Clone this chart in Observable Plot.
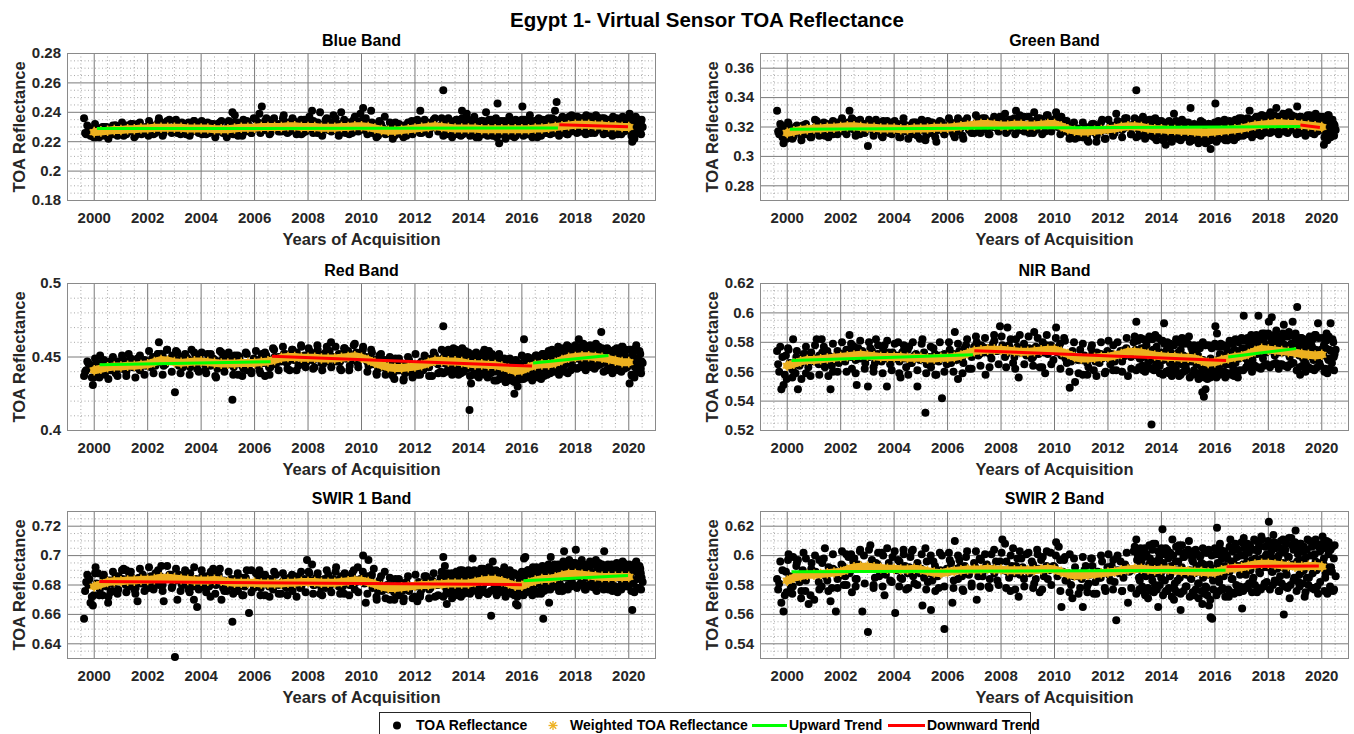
<!DOCTYPE html>
<html><head><meta charset="utf-8">
<script src="https://cdn.jsdelivr.net/npm/d3@7"></script>
<script src="https://cdn.jsdelivr.net/npm/@observablehq/plot@0.6"></script>
<style>
html,body{margin:0;padding:0;background:#fff;overflow:hidden;}
#root{position:relative;width:1354px;height:734px;font-family:"Liberation Sans",Arial,Helvetica,sans-serif;}
.panel{position:absolute;}
#title{position:absolute;top:8px;left:707px;transform:translateX(-50%);white-space:nowrap;font-size:20.5px;font-weight:bold;line-height:24px;color:#000;}
#legend{position:absolute;left:379px;top:712px;width:652px;height:30px;border:1px solid #262626;box-sizing:border-box;background:#fff;font-size:14px;font-weight:bold;color:#000;}
#legend svg{position:absolute;left:0;top:0;}
.li{position:absolute;top:4px;line-height:16px;white-space:nowrap;}
</style></head>
<body><div id="root">
<div id="title">Egypt 1- Virtual Sensor TOA Reflectance</div>
<div id="legend">
<svg width="652" height="30">
<circle cx="17" cy="12.5" r="4" fill="#000"/>
<g stroke="#EDB120" stroke-width="1.3" transform="translate(173,12.5)"><line x1="-4.5" y1="0" x2="4.5" y2="0"/><line x1="0" y1="-4.5" x2="0" y2="4.5"/><line x1="-3.2" y1="-3.2" x2="3.2" y2="3.2"/><line x1="-3.2" y1="3.2" x2="3.2" y2="-3.2"/></g>
<line x1="372" y1="12.5" x2="407" y2="12.5" stroke="#00ff00" stroke-width="3"/>
<line x1="508" y1="12.5" x2="545" y2="12.5" stroke="#ff0000" stroke-width="3"/>
</svg>
<span class="li" style="left:36px">TOA Reflectance</span>
<span class="li" style="left:190px">Weighted TOA Reflectance</span>
<span class="li" style="left:409px">Upward Trend</span>
<span class="li" style="left:547px">Downward Trend</span>
</div>
</div>
<script>
// ---------- acquisition dates, track A (decimal years) ----------
const acqYears = [
1999.62,1999.70,1999.78,1999.86,1999.95,
2000.05,2000.14,2000.22,2000.31,2000.40,2000.52,2000.61,2000.70,2000.80,2000.90,
2001.01,2001.10,2001.20,2001.29,2001.41,2001.50,2001.62,2001.71,2001.82,2001.93,
2002.03,2002.12,2002.21,2002.33,2002.42,2002.51,2002.60,2002.72,2002.81,2002.92,
2003.02,2003.11,2003.23,2003.32,2003.44,2003.53,2003.64,2003.73,2003.85,2003.94,
2004.04,2004.15,2004.24,2004.35,2004.45,2004.56,2004.66,2004.76,2004.87,2004.96,
2005.06,2005.17,2005.26,2005.38,2005.47,2005.58,2005.67,2005.79,2005.88,2005.97,
2006.08,2006.18,2006.27,2006.39,2006.48,2006.59,2006.69,2006.80,2006.90,2006.99,
2007.09,2007.20,2007.31,2007.42,2007.53,2007.64,2007.75,2007.86,2007.96,
2008.05,2008.15,2008.24,2008.35,2008.45,2008.56,2008.66,2008.76,2008.86,2008.95,
2009.05,2009.15,2009.24,2009.35,2009.45,2009.56,2009.65,2009.75,2009.86,2009.96,
2010.06,2010.16,2010.26,2010.36,2010.46,2010.57,2010.67,2010.77,2010.87,2010.96,
2011.06,2011.17,2011.27,2011.37,2011.47,2011.58,2011.68,2011.78,2011.88,2011.98,
2012.09,2012.20,2012.31,2012.42,2012.53,2012.64,2012.75,2012.86,2012.96,
2013.06,2013.12,2013.19,2013.25,2013.31,2013.38,2013.44,2013.50,2013.57,2013.63,2013.69,2013.76,2013.82,2013.88,2013.94,2013.99,
2014.04,2014.10,2014.16,2014.22,2014.29,2014.35,2014.41,2014.47,2014.54,2014.60,2014.66,2014.72,2014.79,2014.85,2014.91,2014.97,
2015.03,2015.09,2015.15,2015.22,2015.28,2015.34,2015.40,2015.47,2015.53,2015.59,2015.65,2015.72,2015.78,2015.84,2015.90,2015.96,
2016.02,2016.08,2016.13,2016.19,2016.24,2016.30,2016.36,2016.41,2016.47,2016.52,2016.58,2016.63,2016.69,2016.74,2016.80,2016.86,2016.91,2016.97,
2017.02,2017.08,2017.13,2017.19,2017.24,2017.30,2017.36,2017.41,2017.47,2017.52,2017.58,2017.63,2017.69,2017.74,2017.80,2017.86,2017.91,2017.97,
2018.02,2018.08,2018.13,2018.19,2018.24,2018.30,2018.36,2018.41,2018.47,2018.52,2018.58,2018.63,2018.69,2018.74,2018.80,2018.86,2018.91,2018.97,
2019.02,2019.08,2019.13,2019.19,2019.24,2019.30,2019.36,2019.41,2019.47,2019.52,2019.58,2019.63,2019.69,2019.74,2019.80,2019.86,2019.91,2019.97,
2020.03,2020.08,2020.13,2020.18,2020.23,2020.28,2020.33,2020.38,2020.43,2020.48
];
// ---------- acquisition dates, track B ----------
const acqYearsB = [
1999.66,1999.82,1999.91,
2000.09,2000.21,2000.34,2000.46,2000.58,2000.68,2000.79,2000.91,
2001.06,2001.18,2001.31,2001.44,2001.55,2001.67,2001.77,2001.88,
2002.08,2002.17,2002.29,2002.38,2002.47,2002.56,2002.66,2002.87,
2003.07,2003.17,2003.28,2003.39,2003.49,2003.59,2003.69,2003.80,
2004.09,2004.20,2004.30,2004.40,2004.51,2004.61,2004.71,2004.82,
2005.01,2005.12,2005.22,2005.33,2005.43,2005.53,2005.63,2005.73,
2006.03,2006.13,2006.23,2006.34,2006.44,2006.54,2006.64,2006.75,
2007.04,2007.15,2007.25,2007.36,2007.47,2007.58,2007.70,2007.81,
2008.10,2008.20,2008.30,2008.40,2008.50,2008.61,2008.71,2008.81,
2009.10,2009.20,2009.30,2009.40,2009.50,2009.60,2009.70,2009.80,
2010.01,2010.11,2010.21,2010.31,2010.41,2010.51,2010.62,2010.72,
2011.02,2011.12,2011.22,2011.32,2011.42,2011.53,2011.63,2011.73,
2012.04,2012.14,2012.25,2012.36,2012.47,2012.58,2012.69,2012.80,
2013.03,2013.09,2013.16,2013.22,2013.29,2013.35,2013.42,2013.54,2013.60,2013.66,2013.72,2013.79,2013.85,2013.91,
2014.01,2014.07,2014.13,2014.19,2014.26,2014.32,2014.38,2014.50,2014.57,2014.63,2014.69,2014.76,2014.82,2014.94,
2015.06,2015.12,2015.18,2015.25,2015.31,2015.37,2015.44,2015.50,2015.56,2015.62,2015.69,2015.75,2015.81,2015.93,
2016.05,2016.11,2016.16,2016.21,2016.27,2016.33,2016.39,2016.44,2016.55,2016.61,2016.66,2016.77,2016.83,2016.94,
2017.05,2017.11,2017.16,2017.21,2017.27,2017.33,2017.39,2017.44,2017.55,2017.61,2017.66,2017.77,2017.83,2017.94,
2018.05,2018.11,2018.16,2018.21,2018.27,2018.33,2018.39,2018.44,2018.55,2018.61,2018.66,2018.77,2018.83,2018.94,
2019.05,2019.11,2019.16,2019.21,2019.27,2019.33,2019.39,2019.44,2019.55,2019.61,2019.66,2019.77,2019.83,2019.94,
2020.05,2020.15,2020.25,2020.35,2020.45,2020.52
];
// ---------- acquisition dates, track C ----------
const acqYearsC = [
1999.74,1999.98,
2000.03,2000.19,2000.36,2000.53,2000.70,2000.87,
2001.04,2001.20,2001.37,2001.54,2001.71,2001.88,
2002.05,2002.22,2002.39,2002.56,2002.73,2002.90,
2003.06,2003.23,2003.40,2003.57,2003.74,2003.91,
2004.02,2004.19,2004.36,2004.53,2004.70,2004.87,
2005.03,2005.20,2005.37,2005.54,2005.71,2005.88,
2006.05,2006.22,2006.39,2006.56,2006.73,2006.90,
2007.06,2007.23,2007.40,2007.57,2007.74,2007.91,
2008.02,2008.19,2008.36,2008.53,2008.70,2008.87,
2009.03,2009.20,2009.37,2009.54,2009.71,2009.88,
2010.05,2010.22,2010.39,2010.56,2010.73,2010.90,
2011.06,2011.23,2011.40,2011.57,2011.74,2011.91,
2012.02,2012.19,2012.36,2012.53,2012.70,2012.87,
2013.00,2013.06,2013.11,2013.17,2013.22,2013.28,2013.33,2013.39,2013.44,2013.50,2013.55,2013.61,2013.66,2013.72,2013.77,2013.83,2013.88,2013.94,
2014.00,2014.06,2014.11,2014.17,2014.22,2014.28,2014.33,2014.39,2014.44,2014.50,2014.55,2014.61,2014.66,2014.72,2014.77,2014.83,2014.88,2014.94,
2015.00,2015.06,2015.11,2015.17,2015.22,2015.28,2015.33,2015.39,2015.44,2015.50,2015.55,2015.61,2015.66,2015.72,2015.77,2015.83,2015.88,2015.94,
2016.00,2016.06,2016.11,2016.17,2016.22,2016.28,2016.33,2016.39,2016.44,2016.50,2016.55,2016.61,2016.66,2016.72,2016.77,2016.83,2016.88,2016.94,
2017.00,2017.06,2017.11,2017.17,2017.22,2017.28,2017.33,2017.39,2017.44,2017.50,2017.55,2017.61,2017.66,2017.72,2017.77,2017.83,2017.88,2017.94,
2018.00,2018.06,2018.11,2018.17,2018.22,2018.28,2018.33,2018.39,2018.44,2018.50,2018.55,2018.61,2018.66,2018.72,2018.77,2018.83,2018.88,2018.94,
2019.00,2019.06,2019.11,2019.17,2019.22,2019.28,2019.33,2019.39,2019.44,2019.50,2019.55,2019.61,2019.66,2019.72,2019.77,2019.83,2019.88,2019.94,
2020.02,2020.10,2020.16,2020.21,2020.26,2020.31,2020.40,2020.46
];

// ---------- weighted series dates (quarterly) ----------
const weightYears = [
2000,2000.25,2000.5,2000.75,2001,2001.25,2001.5,2001.75,2002,2002.25,2002.5,2002.75,
2003,2003.25,2003.5,2003.75,2004,2004.25,2004.5,2004.75,2005,2005.25,2005.5,2005.75,
2006,2006.25,2006.5,2006.75,2007,2007.25,2007.5,2007.75,2008,2008.25,2008.5,2008.75,
2009,2009.25,2009.5,2009.75,2010,2010.25,2010.5,2010.75,2011,2011.25,2011.5,2011.75,
2012,2012.25,2012.5,2012.75,2013,2013.25,2013.5,2013.75,2014,2014.25,2014.5,2014.75,
2015,2015.25,2015.5,2015.75,2016,2016.25,2016.5,2016.75,2017,2017.25,2017.5,2017.75,
2018,2018.25,2018.5,2018.75,2019,2019.25,2019.5,2019.75,2020
];

// ---------- axis ticks ----------
const xTicks = [2000,2002,2004,2006,2008,2010,2012,2014,2016,2018,2020];
const blueTicks = [0.18,0.2,0.22,0.24,0.26,0.28];
const greenTicks = [0.28,0.3,0.32,0.34,0.36];
const redTicks = [0.4,0.45,0.5];
const nirTicks = [0.52,0.54,0.56,0.58,0.6,0.62];
const swir1Ticks = [0.64,0.66,0.68,0.7,0.72];
const swir2Ticks = [0.54,0.56,0.58,0.6,0.62];

// ---------- TOA reflectance, track A ----------
const blueTOA = [
.236,.225,.227,.224,.226,
.223,.228,.226,.230,.224,.229,.227,.225,.231,.226,
.229,.224,.231,.227,.230,.223,.232,.228,.226,.230,
.224,.229,.227,.231,.236,.233,.226,.230,.235,.228,
.234,.226,.232,.229,.225,.233,.228,.234,.227,.231,
.225,.230,.233,.227,.232,.226,.229,.234,.228,.223,
.229,.240,.238,.224,.232,.235,.227,.231,.226,.236,
.230,.239,.244,.228,.233,.226,.235,.229,.232,.227,
.238,.231,.227,.236,.230,.233,.225,.235,.229,
.237,.241,.232,.226,.240,.230,.235,.228,.233,.238,
.231,.224,.240,.235,.229,.233,.226,.237,.232,.239,
.243,.236,.228,.241,.232,.225,.234,.230,.237,.226,
.229,.222,.233,.227,.225,.231,.224,.229,.234,.228,
.235,.241,.227,.232,.226,.233,.236,.229,.231,
.255,.234,.228,.236,.231,.226,.233,.229,.235,.225,.230,.241,.227,.232,.239,.228,
.233,.226,.230,.237,.223,.231,.228,.234,.225,.229,.240,.232,.227,.235,.224,.230,
.236,.246,.219,.231,.228,.234,.225,.230,.237,.226,.232,.229,.224,.233,.227,.231,
.244,.235,.228,.232,.225,.238,.230,.227,.234,.229,.223,.236,.231,.226,.233,.228,.235,.230,
.233,.228,.236,.231,.241,.247,.226,.234,.230,.237,.228,.233,.225,.235,.231,.238,.229,.234,
.232,.237,.229,.234,.227,.236,.231,.238,.230,.233,.226,.235,.232,.228,.237,.230,.234,.229,
.231,.236,.228,.233,.226,.235,.230,.237,.229,.232,.225,.234,.231,.227,.236,.230,.233,.228,
.239,.231,.220,.234,.227,.236,.229,.233,.226,.235
];
const greenTOA = [
.331,.315,.319,.309,.318,
.322,.316,.313,.320,.317,.314,.321,.315,.318,.313,
.319,.324,.316,.321,.314,.322,.318,.315,.320,.317,
.323,.317,.321,.331,.326,.318,.324,.315,.320,.322,
.307,.321,.316,.325,.319,.314,.322,.317,.320,.323,
.318,.322,.313,.326,.317,.320,.315,.323,.319,.312,
.320,.311,.324,.316,.321,.310,.318,.323,.315,.319,
.322,.317,.313,.326,.319,.312,.324,.318,.321,.316,
.323,.318,.326,.320,.315,.324,.321,.319,.327,
.322,.329,.317,.325,.320,.331,.318,.323,.327,.321,
.316,.324,.330,.319,.326,.322,.317,.328,.321,.325,
.330,.323,.327,.318,.324,.315,.321,.312,.319,.316,
.313,.320,.310,.317,.322,.314,.319,.325,.312,.318,
.321,.316,.329,.323,.318,.326,.320,.315,.322,
.345,.324,.317,.321,.327,.319,.314,.322,.318,.325,.316,.320,.311,.323,.317,.321,
.315,.322,.308,.318,.324,.313,.320,.329,.316,.321,.312,.319,.323,.317,.314,.320,
.318,.333,.311,.321,.315,.319,.312,.324,.316,.320,.309,.317,.322,.305,.314,.319,
.336,.318,.324,.313,.321,.316,.325,.319,.311,.322,.317,.314,.323,.318,.320,.315,.326,.319,
.321,.316,.325,.319,.323,.331,.318,.322,.315,.326,.320,.324,.317,.328,.321,.319,.325,.322,
.324,.330,.319,.326,.321,.333,.323,.318,.327,.322,.325,.320,.329,.317,.324,.321,.326,.322,
.323,.334,.320,.327,.318,.325,.321,.316,.328,.322,.319,.326,.320,.324,.317,.322,.327,.319,
.326,.308,.322,.316,.328,.319,.313,.324,.318,.321
];
const redTOA = [
.437,.441,.446,.443,.431,
.445,.440,.451,.443,.438,.446,.441,.444,.439,.447,
.442,.448,.440,.452,.445,.443,.449,.441,.446,.444,
.447,.443,.450,.446,.460,.452,.444,.455,.448,.451,
.426,.453,.447,.443,.450,.445,.455,.448,.442,.451,
.446,.441,.452,.444,.449,.436,.447,.453,.443,.450,
.445,.421,.451,.438,.447,.442,.453,.444,.440,.449,
.446,.441,.452,.437,.448,.443,.456,.445,.450,.447,
.452,.446,.441,.455,.449,.444,.457,.451,.447,
.454,.448,.443,.458,.451,.445,.453,.447,.460,.450,
.447,.452,.441,.456,.449,.444,.451,.459,.446,.453,
.457,.450,.444,.455,.446,.438,.451,.443,.448,.440,
.445,.437,.449,.441,.446,.435,.443,.448,.439,.444,
.438,.446,.441,.449,.443,.437,.451,.445,.440,
.471,.452,.445,.455,.441,.449,.456,.443,.447,.438,.452,.446,.440,.450,.444,.448,
.414,.432,.447,.441,.453,.437,.445,.450,.439,.455,.443,.436,.448,.442,.451,.434,
.446,.440,.452,.437,.444,.449,.433,.441,.447,.436,.443,.425,.438,.430,.442,.435,
.444,.462,.439,.447,.441,.436,.449,.443,.438,.451,.445,.440,.447,.437,.452,.442,.446,.439,
.448,.442,.455,.446,.451,.440,.457,.447,.444,.453,.449,.445,.458,.450,.446,.454,.448,.452,
.456,.449,.462,.452,.447,.459,.451,.445,.455,.448,.453,.446,.457,.450,.444,.454,.449,.467,
.452,.451,.446,.456,.448,.453,.441,.450,.455,.445,.449,.452,.443,.457,.447,.451,.444,.448,
.432,.455,.437,.449,.443,.458,.446,.440,.452,.447
];
const nirTOA = [
.574,.560,.548,.551,.571,
.575,.563,.582,.559,.548,.566,.572,.559,.569,.573,
.567,.582,.571,.582,.563,.574,.548,.560,.570,.566,
.572,.568,.575,.585,.562,.577,.551,.569,.574,.566,
.550,.576,.563,.582,.571,.567,.578,.550,.565,.573,
.569,.580,.556,.574,.563,.577,.566,.571,.550,.568,
.582,.532,.570,.563,.576,.558,.567,.542,.572,.565,
.575,.569,.587,.555,.573,.566,.578,.562,.570,.577,
.580,.572,.577,.558,.576,.569,.581,.574,.591,
.578,.570,.590,.575,.566,.582,.556,.573,.579,.571,
.576,.569,.587,.574,.563,.580,.559,.572,.578,.568,
.590,.577,.571,.583,.566,.549,.574,.553,.568,.575,
.558,.570,.563,.576,.561,.573,.566,.569,.559,.574,
.565,.578,.561,.572,.567,.575,.557,.570,.580,
.594,.582,.569,.576,.561,.574,.578,.566,.571,.524,.575,.563,.577,.568,.559,.573,
.581,.593,.569,.576,.559,.573,.565,.578,.562,.571,.557,.575,.567,.579,.564,.570,
.584,.568,.575,.561,.572,.566,.578,.559,.546,.543,.548,.564,.557,.569,.562,.560,
.591,.586,.563,.572,.566,.577,.560,.570,.574,.565,.579,.568,.562,.575,.571,.556,.569,.573,
.576,.598,.570,.581,.566,.574,.585,.568,.564,.578,.572,.598,.580,.575,.569,.586,.573,.578,
.594,.577,.597,.583,.571,.588,.576,.565,.581,.573,.592,.578,.564,.584,.570,.579,.594,.575,
.586,.604,.576,.558,.583,.569,.578,.565,.574,.581,.562,.577,.568,.585,.572,.593,.566,.575,
.571,.578,.562,.586,.569,.575,.593,.566,.580,.572
];
const swir1TOA = [
.657,.682,.680,.668,.666,
.692,.688,.679,.673,.684,.668,.675,.681,.686,.677,
.683,.691,.690,.679,.685,.677,.669,.682,.687,.680,
.678,.686,.683,.688,.680,.693,.669,.684,.687,.679,
.631,.670,.685,.680,.688,.677,.683,.670,.665,.681,
.686,.678,.684,.672,.691,.680,.687,.670,.683,.676,
.679,.655,.684,.676,.681,.673,.685,.661,.690,.678,
.682,.690,.686,.673,.681,.684,.677,.687,.680,.674,
.683,.678,.685,.676,.681,.686,.679,.684,.697,
.688,.694,.680,.685,.674,.683,.678,.687,.681,.684,
.692,.679,.686,.674,.683,.680,.688,.677,.692,.684,
.700,.668,.697,.686,.691,.670,.683,.676,.689,.680,
.670,.677,.684,.673,.680,.671,.682,.676,.679,.672,
.669,.674,.681,.686,.677,.683,.672,.680,.685,
.699,.693,.667,.684,.678,.688,.681,.676,.686,.680,.690,.675,.683,.679,.687,.682,
.677,.685,.698,.680,.689,.676,.684,.691,.679,.686,.682,.674,.688,.659,.696,.681,
.690,.683,.677,.687,.681,.692,.678,.685,.675,.684,.680,.688,.667,.666,.682,.679,
.686,.698,.699,.683,.690,.677,.685,.692,.680,.688,.674,.684,.690,.679,.657,.686,.681,.693,
.668,.699,.684,.691,.679,.687,.694,.682,.689,.676,.703,.686,.692,.680,.688,.683,.695,.690,
.704,.686,.692,.681,.697,.688,.677,.693,.685,.690,.679,.694,.684,.688,.676,.691,.686,.682,
.689,.703,.683,.691,.677,.687,.694,.680,.688,.692,.675,.686,.690,.681,.695,.684,.688,.679,
.686,.692,.663,.681,.689,.696,.684,.678,.691,.685
];
const swir2TOA = [
.584,.581,.568,.562,.589,
.601,.578,.599,.585,.597,.571,.602,.583,.567,.591,
.570,.588,.597,.579,.605,.583,.569,.591,.562,.586,
.594,.580,.601,.588,.575,.598,.584,.603,.562,.592,
.548,.607,.578,.595,.586,.602,.573,.591,.583,.599,
.561,.597,.585,.604,.577,.592,.603,.581,.595,.588,
.566,.605,.582,.563,.596,.587,.578,.600,.550,.591,
.597,.568,.610,.584,.593,.576,.599,.587,.581,.595,
.570,.598,.586,.592,.579,.601,.588,.583,.596,
.611,.608,.589,.576,.605,.593,.572,.598,.584,.601,
.588,.596,.581,.604,.575,.599,.590,.584,.602,.593,
.609,.606,.565,.597,.583,.601,.571,.592,.586,.578,
.565,.593,.581,.598,.574,.589,.585,.596,.578,.592,
.583,.597,.556,.588,.576,.594,.568,.590,.603,
.611,.600,.583,.596,.576,.605,.589,.571,.598,.587,.608,.580,.594,.565,.601,.585,
.618,.592,.605,.576,.599,.588,.611,.570,.596,.583,.607,.563,.590,.599,.579,.602,
.610,.585,.597,.573,.604,.589,.581,.600,.567,.594,.579,.602,.566,.558,.557,.591,
.601,.619,.585,.608,.593,.577,.603,.589,.598,.572,.611,.584,.596,.606,.580,.593,.575,.600,
.564,.612,.590,.603,.578,.607,.595,.583,.611,.598,.575,.605,.588,.613,.594,.581,.600,.592,
.623,.601,.589,.614,.583,.606,.597,.576,.610,.592,.560,.604,.587,.599,.571,.612,.594,.585,
.617,.596,.582,.608,.589,.603,.572,.599,.611,.585,.593,.606,.578,.601,.590,.574,.607,.595,
.613,.598,.585,.610,.592,.576,.604,.589,.576,.607
];

// ---------- TOA reflectance, track B ----------
const blueTOAB = [
.226,.229,.224,
.225,.229,.227,.230,.226,.228,.231,.227,
.230,.226,.229,.232,.227,.230,.225,.229,
.228,.231,.226,.230,.233,.227,.232,.229,
.231,.227,.233,.228,.230,.226,.232,.229,
.228,.231,.226,.230,.227,.232,.229,.226,
.231,.227,.233,.229,.226,.231,.228,.233,
.229,.233,.227,.231,.236,.228,.232,.230,
.231,.227,.233,.229,.234,.228,.232,.226,
.230,.234,.228,.232,.227,.231,.235,.229,
.228,.232,.230,.226,.233,.229,.231,.234,
.231,.228,.233,.230,.226,.229,.224,.231,
.226,.229,.224,.228,.231,.226,.229,.227,
.228,.231,.226,.230,.233,.229,.232,.230,
.232,.228,.231,.226,.233,.229,.230,.227,.232,.228,.231,.225,.229,.233,
.229,.226,.232,.228,.230,.225,.231,.227,.233,.228,.230,.226,.232,.229,
.228,.231,.226,.229,.232,.227,.230,.225,.229,.231,.227,.230,.226,.228,
.230,.226,.229,.232,.227,.231,.228,.225,.230,.233,.227,.229,.231,.226,
.229,.232,.227,.230,.233,.228,.231,.235,.229,.232,.228,.234,.230,.233,
.231,.235,.229,.233,.230,.236,.228,.232,.234,.230,.233,.229,.235,.231,
.230,.234,.228,.232,.229,.233,.231,.227,.232,.229,.234,.230,.228,.231,
.232,.224,.236,.228,.233,.230
];
const greenTOAB = [
.317,.313,.320,
.318,.315,.320,.317,.321,.316,.319,.314,
.320,.317,.322,.318,.316,.321,.319,.323,
.321,.318,.323,.319,.325,.320,.317,.322,
.319,.322,.317,.321,.318,.324,.320,.316,
.320,.317,.322,.318,.321,.316,.319,.323,
.318,.321,.316,.320,.323,.317,.322,.319,
.320,.323,.318,.321,.317,.322,.324,.320,
.322,.319,.324,.321,.318,.323,.320,.325,
.321,.324,.319,.322,.326,.320,.323,.318,
.320,.323,.318,.322,.325,.321,.319,.324,
.323,.320,.325,.321,.317,.319,.315,.318,
.316,.319,.314,.318,.321,.316,.320,.317,
.318,.321,.316,.320,.323,.319,.322,.320,
.322,.319,.321,.317,.323,.320,.318,.316,.321,.319,.322,.317,.320,.318,
.319,.316,.321,.318,.320,.315,.319,.322,.317,.320,.316,.318,.321,.317,
.318,.315,.320,.317,.314,.319,.316,.321,.313,.318,.315,.317,.320,.316,
.317,.320,.315,.319,.322,.316,.318,.321,.317,.320,.315,.319,.322,.318,
.319,.322,.318,.321,.320,.324,.319,.322,.325,.320,.323,.321,.324,.322,
.323,.321,.325,.322,.324,.320,.326,.323,.321,.325,.322,.324,.320,.323,
.322,.324,.320,.323,.321,.325,.319,.322,.324,.320,.323,.321,.319,.322,
.320,.317,.323,.319,.322,.318
];
const redTOAB = [
.440,.444,.436,
.442,.446,.440,.444,.447,.441,.445,.443,
.444,.441,.446,.443,.447,.442,.445,.448,
.446,.449,.444,.452,.448,.451,.445,.449,
.448,.444,.450,.446,.449,.443,.447,.451,
.447,.444,.450,.445,.448,.442,.446,.449,
.445,.448,.443,.447,.450,.444,.446,.441,
.447,.444,.449,.446,.451,.443,.448,.450,
.449,.452,.447,.451,.448,.453,.450,.446,
.451,.448,.453,.450,.446,.452,.449,.454,
.450,.447,.452,.449,.454,.451,.448,.453,
.452,.449,.447,.450,.445,.448,.442,.446,
.443,.446,.440,.444,.441,.445,.439,.443,
.444,.441,.447,.443,.449,.446,.450,.448,
.449,.446,.451,.447,.444,.450,.448,.445,.449,.443,.447,.450,.446,.444,
.446,.443,.448,.444,.447,.441,.445,.449,.443,.446,.440,.444,.447,.442,
.444,.441,.446,.443,.440,.445,.442,.438,.441,.437,.440,.436,.439,.442,
.441,.444,.439,.443,.446,.440,.444,.447,.442,.445,.448,.443,.446,.449,
.446,.449,.444,.448,.451,.446,.450,.447,.452,.449,.453,.450,.448,.452,
.451,.454,.449,.452,.455,.450,.453,.448,.452,.455,.450,.453,.449,.451,
.450,.453,.448,.451,.446,.450,.447,.452,.449,.445,.448,.451,.446,.449,
.447,.451,.444,.449,.442,.446
];
const nirTOAB = [
.565,.570,.558,
.566,.561,.570,.564,.568,.572,.563,.569,
.569,.565,.573,.567,.571,.564,.570,.574,
.571,.567,.575,.570,.573,.568,.576,.572,
.570,.574,.566,.572,.568,.575,.569,.573,
.571,.567,.573,.569,.575,.566,.570,.572,
.569,.573,.565,.570,.567,.572,.568,.571,
.570,.566,.572,.568,.574,.569,.576,.573,
.575,.571,.578,.573,.576,.572,.579,.574,
.576,.572,.578,.574,.570,.577,.573,.575,
.574,.570,.577,.572,.576,.573,.578,.575,
.576,.573,.579,.572,.569,.571,.567,.570,
.568,.571,.566,.570,.573,.567,.569,.572,
.569,.572,.567,.571,.574,.570,.576,.573,
.575,.571,.574,.569,.573,.576,.570,.572,.568,.574,.571,.567,.573,.570,
.572,.568,.571,.574,.569,.566,.572,.570,.567,.573,.569,.565,.571,.568,
.570,.567,.572,.568,.565,.571,.566,.563,.568,.564,.561,.566,.563,.567,
.564,.568,.562,.570,.567,.571,.565,.569,.573,.568,.572,.566,.570,.574,
.571,.575,.569,.573,.577,.572,.576,.579,.574,.578,.573,.577,.580,.575,
.577,.580,.574,.578,.575,.581,.573,.577,.579,.574,.576,.572,.578,.575,
.574,.577,.571,.575,.579,.572,.576,.570,.574,.578,.571,.575,.569,.573,
.572,.576,.568,.574,.570,.575
];
const swir1TOAB = [
.676,.684,.672,
.681,.677,.685,.679,.683,.676,.682,.686,
.684,.680,.687,.682,.678,.685,.681,.683,
.685,.681,.688,.683,.686,.680,.684,.687,
.683,.687,.680,.685,.682,.688,.679,.684,
.682,.686,.679,.684,.681,.687,.683,.678,
.681,.684,.678,.683,.680,.685,.679,.682,
.680,.684,.678,.682,.685,.679,.683,.681,
.682,.679,.684,.680,.686,.681,.678,.683,
.683,.680,.685,.681,.678,.684,.682,.679,
.681,.684,.679,.683,.686,.680,.684,.682,
.684,.681,.686,.682,.678,.680,.676,.679,
.677,.680,.675,.679,.682,.676,.680,.678,
.679,.682,.677,.681,.684,.678,.682,.680,
.681,.684,.678,.682,.685,.680,.683,.677,.681,.684,.679,.682,.685,.680,
.682,.679,.684,.681,.686,.680,.683,.687,.681,.685,.682,.688,.684,.686,
.684,.681,.686,.682,.679,.684,.680,.677,.682,.678,.675,.680,.677,.681,
.679,.683,.677,.682,.686,.680,.684,.688,.682,.686,.681,.685,.689,.683,
.685,.688,.683,.687,.690,.684,.688,.691,.686,.689,.685,.690,.687,.692,
.688,.691,.686,.690,.684,.689,.692,.686,.690,.687,.683,.688,.691,.685,
.686,.689,.683,.688,.685,.690,.684,.687,.691,.685,.688,.682,.687,.690,
.687,.683,.690,.685,.688,.682
];
const swir2TOAB = [
.577,.590,.573,
.586,.579,.593,.582,.590,.576,.588,.595,
.589,.582,.595,.586,.592,.578,.590,.584,
.593,.586,.599,.590,.596,.584,.594,.600,
.591,.597,.585,.594,.589,.600,.587,.595,
.590,.596,.584,.593,.588,.599,.586,.592,
.591,.585,.596,.588,.583,.593,.586,.590,
.589,.595,.583,.591,.597,.586,.593,.588,
.592,.586,.597,.590,.594,.584,.591,.596,
.590,.596,.585,.593,.588,.598,.587,.592,
.589,.594,.584,.591,.597,.586,.593,.590,
.592,.586,.597,.589,.583,.588,.580,.586,
.584,.590,.579,.587,.593,.582,.589,.585,
.587,.593,.582,.590,.596,.585,.592,.589,
.591,.597,.585,.593,.588,.599,.586,.594,.590,.583,.596,.588,.593,.598,
.589,.595,.583,.592,.598,.586,.593,.581,.590,.596,.585,.592,.599,.587,
.590,.584,.596,.588,.593,.581,.589,.595,.585,.591,.578,.587,.594,.583,
.588,.595,.582,.591,.598,.586,.593,.600,.589,.596,.584,.592,.599,.587,
.594,.600,.587,.596,.602,.590,.597,.585,.593,.603,.589,.598,.592,.601,
.596,.603,.589,.598,.605,.591,.600,.586,.595,.602,.590,.599,.593,.604,
.594,.601,.587,.597,.604,.590,.598,.585,.593,.600,.588,.596,.591,.603,
.595,.588,.601,.592,.598,.586
];

// ---------- TOA reflectance, track C ----------
const blueTOAC = [
.231,.223,
.232,.223,.230,.222,.231,.224,
.233,.225,.232,.224,.233,.226,
.234,.225,.233,.224,.234,.226,
.235,.225,.232,.224,.234,.226,
.234,.225,.232,.223,.233,.226,
.234,.225,.233,.224,.234,.226,
.235,.226,.234,.225,.236,.227,
.236,.226,.234,.225,.235,.227,
.235,.226,.233,.224,.236,.227,
.236,.226,.234,.225,.235,.227,
.235,.225,.233,.223,.232,.225,
.233,.224,.232,.223,.233,.225,
.234,.226,.235,.225,.235,.227,
.236,.224,.233,.225,.235,.227,.234,.223,.232,.226,.235,.225,.233,.224,.236,.226,.234,.227,
.235,.224,.232,.225,.234,.227,.233,.223,.231,.226,.234,.225,.232,.224,.235,.226,.233,.227,
.234,.223,.232,.225,.234,.226,.233,.222,.231,.225,.234,.224,.232,.223,.235,.226,.233,.227,
.235,.224,.232,.225,.234,.227,.233,.223,.231,.226,.234,.225,.232,.224,.235,.226,.233,.227,
.236,.225,.233,.226,.235,.228,.234,.224,.232,.227,.236,.226,.234,.225,.237,.227,.235,.228,
.237,.226,.234,.227,.236,.229,.235,.225,.233,.228,.237,.227,.235,.226,.238,.228,.236,.229,
.236,.225,.233,.226,.235,.228,.234,.224,.232,.227,.236,.226,.234,.225,.237,.227,.235,.228,
.236,.224,.233,.222,.237,.226,.234,.225
];
const greenTOAC = [
.322,.312,
.323,.312,.321,.311,.322,.313,
.325,.314,.323,.313,.324,.315,
.326,.315,.324,.314,.325,.316,
.325,.314,.323,.313,.324,.315,
.324,.313,.322,.312,.323,.314,
.325,.314,.323,.313,.324,.315,
.326,.315,.324,.314,.326,.316,
.328,.316,.326,.315,.327,.317,
.327,.316,.325,.315,.328,.317,
.327,.316,.326,.315,.328,.317,
.326,.315,.324,.312,.323,.313,
.323,.311,.322,.310,.323,.312,
.325,.314,.324,.313,.326,.315,
.326,.313,.323,.314,.325,.316,.324,.312,.322,.315,.325,.314,.323,.313,.326,.315,.324,.316,
.324,.311,.322,.313,.323,.314,.322,.310,.321,.313,.324,.312,.322,.311,.325,.313,.323,.314,
.323,.310,.321,.312,.322,.313,.321,.309,.320,.312,.323,.311,.321,.310,.322,.311,.320,.312,
.323,.310,.321,.312,.323,.313,.322,.311,.321,.313,.324,.312,.322,.311,.325,.313,.323,.314,
.326,.314,.324,.315,.326,.317,.325,.313,.324,.316,.327,.315,.325,.314,.328,.316,.326,.317,
.328,.316,.326,.317,.328,.319,.327,.315,.326,.318,.329,.317,.327,.316,.330,.318,.328,.319,
.327,.315,.325,.316,.327,.318,.326,.314,.325,.317,.328,.316,.326,.315,.329,.317,.327,.318,
.327,.313,.324,.311,.328,.315,.325,.314
];
const redTOAC = [
.447,.436,
.449,.436,.448,.435,.450,.437,
.451,.437,.449,.436,.451,.438,
.454,.439,.452,.438,.455,.440,
.454,.439,.452,.438,.453,.440,
.453,.439,.452,.437,.454,.440,
.453,.438,.451,.437,.452,.439,
.454,.439,.453,.438,.455,.441,
.457,.442,.455,.441,.458,.443,
.456,.442,.455,.441,.457,.443,
.457,.442,.456,.441,.458,.443,
.455,.440,.453,.439,.452,.438,
.450,.435,.449,.434,.450,.436,
.452,.438,.451,.437,.453,.439,
.455,.439,.452,.440,.454,.441,.453,.438,.451,.441,.455,.440,.453,.439,.456,.441,.454,.442,
.453,.437,.450,.438,.452,.439,.451,.436,.449,.439,.453,.438,.451,.437,.454,.439,.452,.440,
.450,.434,.448,.435,.449,.436,.448,.433,.446,.435,.449,.434,.447,.433,.448,.434,.446,.436,
.451,.435,.449,.436,.450,.437,.449,.434,.448,.437,.451,.436,.450,.435,.452,.437,.451,.438,
.454,.439,.452,.440,.454,.441,.453,.438,.452,.441,.456,.440,.454,.439,.457,.441,.455,.443,
.458,.442,.455,.443,.457,.444,.456,.441,.455,.444,.458,.443,.456,.442,.459,.444,.457,.445,
.456,.440,.453,.441,.455,.442,.454,.439,.452,.442,.456,.441,.454,.440,.457,.442,.455,.443,
.455,.438,.453,.436,.456,.440,.454,.439
];
const nirTOAC = [
.577,.555,
.576,.556,.574,.555,.577,.557,
.578,.558,.577,.557,.579,.560,
.580,.560,.579,.559,.581,.562,
.580,.560,.578,.559,.581,.561,
.579,.559,.578,.558,.580,.561,
.579,.559,.577,.558,.580,.560,
.580,.560,.579,.559,.582,.562,
.584,.564,.583,.563,.585,.565,
.584,.563,.582,.562,.585,.565,
.584,.564,.583,.563,.585,.565,
.583,.562,.581,.560,.580,.559,
.579,.558,.578,.557,.580,.560,
.581,.561,.580,.560,.583,.562,
.584,.561,.581,.563,.583,.564,.582,.560,.580,.563,.584,.562,.582,.561,.585,.563,.583,.564,
.581,.558,.579,.560,.580,.561,.579,.557,.578,.560,.582,.559,.580,.558,.583,.560,.581,.561,
.579,.556,.577,.558,.578,.559,.577,.555,.576,.557,.580,.556,.578,.555,.578,.556,.576,.558,
.579,.556,.577,.558,.579,.559,.578,.556,.577,.559,.581,.558,.579,.557,.582,.559,.580,.561,
.583,.561,.581,.563,.583,.564,.582,.560,.581,.564,.585,.563,.583,.562,.586,.564,.584,.565,
.586,.563,.583,.565,.585,.566,.584,.562,.582,.565,.586,.564,.584,.563,.587,.565,.585,.566,
.583,.561,.581,.563,.583,.564,.582,.560,.580,.563,.584,.562,.582,.561,.585,.563,.583,.564,
.583,.560,.581,.559,.584,.562,.582,.561
];
const swir1TOAC = [
.687,.673,
.688,.673,.687,.672,.689,.674,
.690,.675,.689,.674,.691,.676,
.692,.677,.690,.676,.693,.678,
.691,.676,.690,.675,.692,.677,
.690,.675,.689,.674,.691,.676,
.689,.674,.688,.673,.690,.675,
.688,.673,.687,.672,.689,.674,
.688,.673,.687,.672,.689,.675,
.689,.674,.688,.673,.690,.675,
.689,.674,.688,.673,.690,.675,
.689,.674,.687,.672,.686,.671,
.685,.670,.684,.669,.686,.671,
.687,.672,.686,.671,.688,.673,
.689,.672,.686,.674,.688,.675,.687,.671,.685,.674,.689,.673,.687,.672,.690,.674,.688,.675,
.690,.674,.688,.676,.690,.677,.689,.673,.687,.676,.691,.675,.689,.674,.692,.676,.690,.677,
.689,.673,.687,.675,.689,.676,.688,.672,.686,.675,.690,.674,.688,.673,.687,.672,.686,.674,
.689,.673,.687,.675,.690,.676,.689,.673,.688,.676,.692,.675,.690,.674,.693,.676,.691,.677,
.694,.677,.692,.679,.694,.680,.693,.676,.692,.679,.696,.678,.694,.677,.697,.679,.695,.680,
.695,.678,.693,.680,.695,.681,.694,.677,.692,.680,.696,.679,.694,.678,.697,.680,.695,.681,
.694,.677,.692,.679,.694,.680,.693,.676,.691,.679,.695,.678,.693,.677,.696,.679,.694,.680,
.694,.676,.692,.675,.695,.678,.693,.677
];
const swir2TOAC = [
.596,.575,
.597,.574,.595,.576,.598,.573,
.600,.577,.598,.576,.601,.578,
.603,.580,.601,.579,.604,.581,
.604,.580,.602,.579,.605,.582,
.603,.579,.601,.578,.604,.580,
.601,.577,.600,.576,.602,.579,
.602,.578,.600,.577,.603,.579,
.603,.579,.601,.578,.604,.580,
.602,.578,.600,.577,.603,.579,
.602,.578,.601,.577,.603,.580,
.600,.576,.599,.575,.598,.574,
.599,.575,.598,.574,.600,.576,
.601,.577,.600,.576,.602,.578,
.606,.574,.602,.577,.605,.579,.603,.573,.601,.578,.607,.576,.604,.575,.608,.577,.603,.580,
.605,.573,.601,.576,.604,.578,.602,.572,.600,.577,.606,.575,.603,.574,.607,.576,.602,.579,
.604,.572,.600,.575,.603,.577,.601,.571,.599,.576,.605,.574,.602,.573,.604,.570,.600,.577,
.605,.573,.601,.576,.604,.578,.602,.572,.600,.577,.606,.575,.603,.574,.608,.576,.604,.579,
.609,.576,.605,.579,.608,.581,.606,.575,.604,.580,.610,.578,.607,.577,.611,.579,.606,.582,
.610,.577,.606,.580,.609,.582,.607,.576,.605,.581,.611,.579,.608,.578,.612,.580,.607,.583,
.609,.576,.605,.579,.608,.581,.606,.575,.604,.580,.610,.578,.607,.577,.611,.579,.606,.582,
.608,.576,.605,.574,.609,.579,.606,.577
];

// ---------- weighted TOA reflectance (quarterly) ----------
const blueWeighted = [
.2265,.227,.2275,.228, .228,.2285,.2285,.229, .229,.2295,.2295,.2295, .2295,.2295,.229,.229,
.229,.229,.2285,.2285, .2285,.229,.2295,.2295, .2295,.230,.230,.230, .230,.2305,.2305,.230,
.230,.230,.2295,.2295, .2295,.230,.230,.2305, .2305,.230,.229,.228, .2275,.2275,.228,.2285,
.229,.2295,.230,.2305, .230,.2295,.229,.229, .229,.229,.2285,.2285, .2285,.2285,.2285,.2285,
.2285,.2285,.229,.229, .2295,.230,.2305,.231, .2315,.2315,.2315,.231, .231,.2305,.2305,.230, .230
];
const greenWeighted = [
.316,.317,.318,.3185, .319,.319,.3195,.3195, .320,.3205,.3205,.320, .3195,.3195,.319,.319,
.319,.3185,.3185,.319, .319,.319,.3195,.3195, .3195,.320,.3205,.321, .3215,.322,.322,.3215,
.321,.321,.3215,.3215, .321,.321,.3215,.322, .322,.3205,.3185,.3175, .317,.317,.3175,.318,
.3185,.319,.320,.3205, .3205,.320,.319,.3185, .3185,.318,.318,.3175, .3175,.317,.3165,.3165,
.317,.3175,.318,.3185, .319,.320,.321,.3215, .322,.3225,.3225,.322, .322,.3215,.321,.3205, .320
];
const redWeighted = [
.441,.442,.443,.4435, .4435,.444,.444,.4445, .445,.4465,.448,.4475, .4465,.446,.4465,.447,
.447,.4465,.446,.4455, .4455,.4455,.446,.446, .446,.4465,.447,.448, .4495,.450,.450,.4495,
.4495,.4495,.449,.449, .449,.4495,.450,.4505, .4495,.448,.446,.4445, .443,.4425,.4425,.443,
.4435,.4445,.446,.4475, .4475,.447,.447,.4465, .4455,.445,.445,.4445, .4445,.4435,.442,.4405,
.441,.443,.4445,.445, .445,.446,.448,.4495, .450,.4505,.4505,.450, .4495,.4485,.4475,.4465, .4465
];
const nirWeighted = [
.564,.5655,.567,.568, .568,.5685,.569,.5695, .570,.5705,.571,.5715, .571,.5705,.570,.570,
.570,.570,.5695,.5695, .5695,.569,.569,.5695, .5695,.570,.571,.5725, .574,.5745,.575,.575,
.575,.5745,.574,.5735, .5735,.574,.5745,.575, .575,.5735,.572,.570, .569,.569,.5695,.570,
.570,.571,.572,.5735, .5735,.573,.572,.571, .5705,.570,.570,.5695, .5695,.569,.5675,.566,
.5665,.568,.569,.570, .5705,.572,.574,.5755, .575,.5745,.574,.5735, .573,.572,.5715,.571, .5715
];
const swir1Weighted = [
.679,.6805,.682,.6825, .6825,.683,.683,.6835, .6835,.684,.685,.685, .6845,.684,.6835,.683,
.683,.683,.6835,.683, .682,.6815,.6815,.6815, .6815,.681,.681,.681, .681,.6815,.6815,.682,
.682,.682,.6815,.6815, .6815,.682,.6825,.683, .683,.682,.6805,.679, .678,.678,.6785,.679,
.6795,.680,.680,.6805, .6805,.681,.681,.681, .681,.682,.683,.6835, .6835,.6825,.681,.6795,
.6795,.6815,.683,.684, .684,.685,.6865,.6875, .6875,.687,.6865,.686, .6855,.6855,.6855,.6855, .6855
];
const swir2Weighted = [
.583,.585,.586,.587, .587,.5875,.588,.5885, .589,.5905,.592,.5925, .5925,.592,.5915,.591,
.591,.5905,.5905,.591, .5905,.5895,.5885,.588, .589,.5895,.590,.5905, .5905,.5905,.591,.5905,
.5905,.590,.590,.590, .590,.590,.5905,.591, .5905,.589,.5875,.5865, .5865,.587,.5875,.588,
.5885,.589,.590,.5905, .591,.591,.5905,.590, .5905,.5905,.590,.5895, .5895,.589,.589,.5885,
.5885,.590,.591,.5915, .592,.593,.594,.5945, .5945,.594,.5935,.593, .5925,.5925,.593,.593, .5925
];

// ---------- trend segments: [startYear, startValue, endYear, endValue, direction] ----------
const blueTrend = [[2000.1,.2289,2017.35,.2293,"up"],[2017.4,.2316,2019.97,.2302,"down"]];
const greenTrend = [[2000.1,.3185,2019.2,.3203,"up"],[2019.2,.3214,2019.93,.3196,"down"]];
const redTrend = [[2000.2,.4447,2006.6,.4468,"up"],[2006.65,.4505,2016.38,.4438,"down"],[2016.42,.4459,2019.24,.4511,"up"]];
const nirTrend = [[2000.16,.5677,2006.95,.5716,"up"],[2007.0,.5743,2016.42,.5677,"down"],[2016.5,.570,2019.04,.5757,"up"]];
const swir1Trend = [[2000.19,.6823,2016.0,.6802,"down"],[2016.06,.6829,2019.97,.6865,"up"]];
const swir2Trend = [[2000.16,.589,2016.4,.590,"up"],[2016.44,.5925,2019.89,.593,"down"]];

const bandTitles = ["Blue Band","Green Band","Red Band","NIR Band","SWIR 1 Band","SWIR 2 Band"];

const panels = [
  {title: bandTitles[0], toa: [blueTOA, blueTOAB, blueTOAC], w: blueWeighted, trend: blueTrend, domain: [0.18,0.28], ticks: blueTicks, minor: 0.005, left: 0, top: 23},
  {title: bandTitles[1], toa: [greenTOA, greenTOAB, greenTOAC], w: greenWeighted, trend: greenTrend, domain: [0.27,0.37], ticks: greenTicks, minor: 0.005, left: 693, top: 23},
  {title: bandTitles[2], toa: [redTOA, redTOAB, redTOAC], w: redWeighted, trend: redTrend, domain: [0.4,0.5], ticks: redTicks, minor: 0.01, left: 0, top: 253},
  {title: bandTitles[3], toa: [nirTOA, nirTOAB, nirTOAC], w: nirWeighted, trend: nirTrend, domain: [0.52,0.62], ticks: nirTicks, minor: 0.005, left: 693, top: 253},
  {title: bandTitles[4], toa: [swir1TOA, swir1TOAB, swir1TOAC], w: swir1Weighted, trend: swir1Trend, domain: [0.63,0.73], ticks: swir1Ticks, minor: 0.005, left: 0, top: 481},
  {title: bandTitles[5], toa: [swir2TOA, swir2TOAB, swir2TOAC], w: swir2Weighted, trend: swir2Trend, domain: [0.53,0.63], ticks: swir2Ticks, minor: 0.005, left: 693, top: 481}
];
const tracks = [acqYears, acqYearsB, acqYearsC];

const root = document.getElementById("root");
const FONT = "'Liberation Sans', Arial, Helvetica, sans-serif";

for (const p of panels) {
  const pts = [];
  tracks.forEach((dates, k) => dates.forEach((x, i) => { const y = p.toa[k][i]; if (y != null) pts.push({x, y}); }));
  const wpts = weightYears.map((x, i) => ({x, y: p.w[i]})).filter(d => d.y != null);
  const [lo, hi] = p.domain;
  const minorY = d3.range(lo, hi + 1e-9, p.minor).filter(v => !p.ticks.some(t => Math.abs(t - v) < 1e-7));
  const minorX = d3.range(1999, 2021.001, 0.5).filter(v => !xTicks.includes(v));
  const svg = Plot.plot({
    width: 660, height: 232,
    marginLeft: 67, marginRight: 5, marginTop: 30, marginBottom: 55,
    x: {domain: [1999, 2021]},
    y: {domain: p.domain},
    style: {fontFamily: FONT, fontSize: "15px", fontWeight: "bold", color: "#262626", background: "transparent", overflow: "visible"},
    marks: [
      Plot.gridX(minorX, {stroke: "#a8a8a8", strokeOpacity: 1, strokeWidth: 1, strokeDasharray: "1,2.5"}),
      Plot.gridY(minorY, {stroke: "#a8a8a8", strokeOpacity: 1, strokeWidth: 1, strokeDasharray: "1,2.5"}),
      Plot.gridX(xTicks, {stroke: "#7a7a7a", strokeOpacity: 1, strokeWidth: 1}),
      Plot.gridY(p.ticks, {stroke: "#7a7a7a", strokeOpacity: 1, strokeWidth: 1}),
      Plot.frame({stroke: "#8a8a8a"}),
      Plot.axisX({ticks: xTicks, tickSize: 0, tickPadding: 12, tickFormat: d => String(d), label: null, fontSize: 15, fontWeight: "bold"}),
      Plot.axisY({ticks: p.ticks, tickSize: 0, tickPadding: 6.5, tickFormat: d => String(d), label: null, fontSize: 15, fontWeight: "bold"}),
      Plot.dot(pts, {x: "x", y: "y", r: 4, fill: "#000", stroke: "none"}),
      Plot.line(wpts, {x: "x", y: "y", stroke: "#EDB120", strokeWidth: 8, curve: "linear"}),
      Plot.dot(wpts, {x: "x", y: "y", symbol: "asterisk", r: 5, stroke: "#EDB120", strokeWidth: 1.5}),
      Plot.link(p.trend.filter(t => t[4] === "up"), {x1: d => d[0], y1: d => d[1], x2: d => d[2], y2: d => d[3], stroke: "#00ff00", strokeWidth: 3}),
      Plot.link(p.trend.filter(t => t[4] === "down"), {x1: d => d[0], y1: d => d[1], x2: d => d[2], y2: d => d[3], stroke: "#ff0000", strokeWidth: 3}),
      Plot.text([p.title], {text: d => d, frameAnchor: "top", dy: -13, textAnchor: "middle", lineAnchor: "middle", fontSize: 16, fontWeight: "bold", fill: "#000"}),
      Plot.text(["TOA Reflectance"], {text: d => d, frameAnchor: "left", dx: -47.5, rotate: -90, textAnchor: "middle", lineAnchor: "middle", fontSize: 16.5, fontWeight: "bold", fill: "#262626"}),
      Plot.text(["Years of Acquisition"], {text: d => d, frameAnchor: "bottom", dy: 39, textAnchor: "middle", lineAnchor: "middle", fontSize: 16.5, fontWeight: "bold", fill: "#262626"})
    ]
  });
  const div = document.createElement("div");
  div.className = "panel";
  div.style.left = p.left + "px";
  div.style.top = p.top + "px";
  div.appendChild(svg);
  root.insertBefore(div, document.getElementById("legend"));
}
</script>
</body></html>
